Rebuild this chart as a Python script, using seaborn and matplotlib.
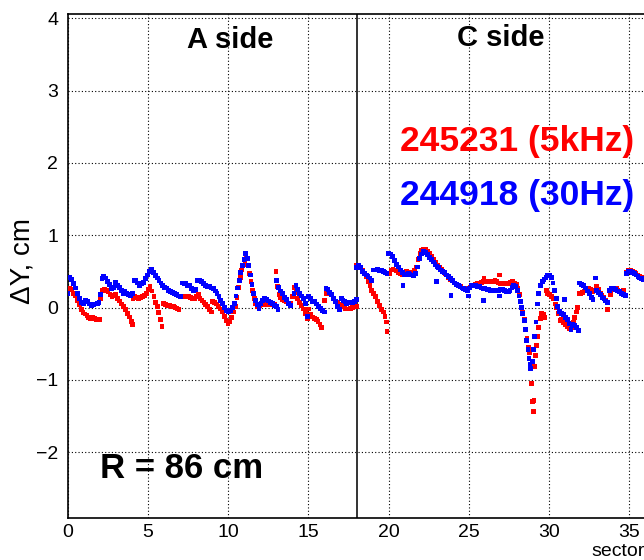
import numpy as np
import pandas as pd
import matplotlib
matplotlib.use("Agg")
import matplotlib.pyplot as plt
from matplotlib.ticker import MultipleLocator
import seaborn as sns

# Run 245231 (5 kHz): sector position and Y distortion [cm]
red_sector = [
    0.00, 0.10, 0.22, 0.34, 0.46, 0.58, 0.70, 0.82, 0.94, 1.06, 1.18, 1.30, 1.42, 1.54, 1.66, 1.78, 1.90, 2.00,
    2.04, 2.14, 2.26, 2.38, 2.50, 2.62, 2.74, 2.86, 2.98, 3.10, 3.22, 3.34, 3.46, 3.58, 3.70, 3.82, 3.94, 4.04,
    4.06, 4.18, 4.30, 4.42, 4.54, 4.66, 4.78, 4.90, 5.02, 5.12, 5.24, 5.36, 5.46, 5.56, 5.66, 5.76, 5.86,
    5.96, 6.08, 6.20, 6.32, 6.44, 6.56, 6.68, 6.80, 6.92,
    7.04, 7.16, 7.28, 7.40, 7.52, 7.64, 7.76, 7.88, 8.00, 8.12,
    8.24, 8.36, 8.48, 8.60, 8.72, 8.84, 8.94,
    9.02, 9.14, 9.26, 9.38, 9.50, 9.62, 9.74, 9.86, 9.98, 10.10, 10.22, 10.34, 10.44, 10.54, 10.64, 10.74,
    10.84, 10.94, 11.04, 11.12, 11.22, 11.32, 11.42, 11.52, 11.62, 11.72, 11.84, 11.96, 12.08, 12.20, 12.32,
    12.44, 12.56, 12.68, 12.80, 12.92, 12.98,
    13.06, 13.16, 13.28, 13.40, 13.52, 13.64, 13.76, 13.88,
    14.00, 14.10, 14.22, 14.34, 14.46, 14.58, 14.70, 14.82, 14.94,
    15.00, 15.12, 15.24, 15.36, 15.48, 15.60, 15.72, 15.82,
    16.02, 16.12, 16.22, 16.34, 16.46, 16.58, 16.70, 16.82, 16.94,
    17.04, 17.16, 17.28, 17.40, 17.52, 17.64, 17.76, 17.88, 17.98,
    18.02, 18.12, 18.24, 18.36, 18.48, 18.60, 18.72, 18.84, 18.96, 19.08, 19.20, 19.32, 19.44, 19.56, 19.68,
    19.78, 19.86, 19.90,
    20.04, 20.16, 20.28, 20.40, 20.52, 20.64, 20.76, 20.88, 21.00, 21.12, 21.24, 21.36, 21.48, 21.60, 21.72,
    21.84, 21.96, 22.08, 22.20, 22.32, 22.44, 22.56, 22.68, 22.80, 22.92, 23.04, 23.16, 23.28, 23.40, 23.52,
    23.64, 23.76, 23.88, 24.00, 24.12, 24.24, 24.36, 24.48, 24.60, 24.72, 24.84, 24.96, 25.08, 25.20, 25.32,
    25.44, 25.56, 25.68, 25.80, 25.92, 25.95, 26.04, 26.16, 26.28, 26.40, 26.52, 26.64, 26.76, 26.88, 26.90,
    27.00, 27.12, 27.24, 27.36, 27.48, 27.60, 27.72, 27.84, 27.96, 28.06, 28.16, 28.26,
    28.36, 28.46, 28.56, 28.64, 28.72, 28.80, 28.90, 28.96, 29.02, 29.08, 29.12, 29.18, 29.24, 29.30, 29.38,
    29.46, 29.56, 29.66, 29.76,
    29.84, 29.94, 30.04, 30.16, 30.28, 30.40, 30.50, 30.60, 30.70, 30.80, 30.92, 31.04, 31.16, 31.28, 31.40,
    31.52, 31.62, 31.72, 31.80,
    31.88, 32.00, 32.12, 32.24, 32.36, 32.48, 32.60, 32.72, 32.84, 32.96, 33.08, 33.20, 33.32, 33.44, 33.56, 33.66,
    33.84, 33.96, 34.08, 34.20, 34.32, 34.44, 34.56, 34.68,
    34.84, 34.96, 35.08, 35.20, 35.32, 35.44, 35.56, 35.68, 35.80, 35.92,
]
red_dy = [
    0.24, 0.27, 0.25, 0.20, 0.16, 0.10, 0.04, -0.03, -0.07, -0.09, -0.11, -0.14, -0.15, -0.14, -0.15, -0.16, -0.16, -0.17,
    0.13, 0.24, 0.25, 0.24, 0.22, 0.18, 0.15, 0.17, 0.18, 0.13, 0.09, 0.05, 0.01, -0.03, -0.08, -0.13, -0.19, -0.23,
    0.13, 0.15, 0.14, 0.13, 0.14, 0.15, 0.17, 0.20, 0.25, 0.29, 0.23, 0.15, 0.07, 0.01, -0.07, -0.16, -0.26,
    0.06, 0.04, 0.03, 0.03, 0.02, 0.01, 0.00, -0.01, -0.03,
    0.15, 0.16, 0.15, 0.15, 0.15, 0.14, 0.13, 0.13, 0.15, 0.18,
    0.13, 0.10, 0.07, 0.04, 0.01, -0.03, -0.06,
    0.08, 0.07, 0.05, 0.02, -0.02, -0.06, -0.12, -0.18, -0.22, -0.19, -0.14, -0.06, 0.02, 0.14, 0.28, 0.42,
    0.52, 0.59, 0.64, 0.68, 0.59, 0.47, 0.36, 0.24, 0.12, 0.05, 0.02, 0.03, 0.04, 0.04, 0.04,
    0.04, 0.04, 0.04, 0.04, 0.04, 0.50,
    0.29, 0.18, 0.14, 0.11, 0.09, 0.08, 0.06, 0.06,
    0.15, 0.28, 0.21, 0.13, 0.07, 0.03, -0.02, -0.08, -0.15,
    -0.02, -0.10, -0.13, -0.15, -0.17, -0.19, -0.23, -0.27,
    0.10, 0.20, 0.24, 0.21, 0.18, 0.13, 0.09, 0.07, 0.05,
    0.04, 0.01, -0.01, -0.02, -0.02, -0.01, 0.00, 0.01, 0.01,
    0.58, 0.59, 0.55, 0.51, 0.47, 0.43, 0.36, 0.30, 0.24, 0.20, 0.15, 0.08, 0.03, -0.03, -0.06,
    -0.12, -0.20, -0.33,
    0.47, 0.52, 0.53, 0.52, 0.51, 0.49, 0.47, 0.46, 0.48, 0.50, 0.48, 0.47, 0.49, 0.52, 0.56,
    0.66, 0.75, 0.79, 0.81, 0.81, 0.78, 0.75, 0.71, 0.67, 0.62, 0.59, 0.56, 0.53, 0.50, 0.47,
    0.45, 0.42, 0.39, 0.37, 0.34, 0.32, 0.31, 0.29, 0.27, 0.26, 0.26, 0.26, 0.28, 0.30, 0.31,
    0.32, 0.33, 0.34, 0.35, 0.36, 0.41, 0.36, 0.36, 0.36, 0.36, 0.36, 0.37, 0.36, 0.34, 0.45,
    0.33, 0.33, 0.34, 0.33, 0.33, 0.35, 0.36, 0.33, 0.32, 0.26, 0.18, 0.09,
    -0.06, -0.16, -0.30, -0.42, -0.55, -0.62, -1.05, -1.30, -1.44, -1.28, -0.82, -0.66, -0.52, -0.40, -0.28,
    -0.15, -0.08, -0.09, -0.14,
    0.24, 0.20, 0.18, 0.15, 0.12, 0.05, 0.00, -0.08, -0.18, -0.16, -0.21, -0.23, -0.26, -0.29, -0.27,
    -0.21, -0.14, -0.06, 0.00,
    0.20, 0.20, 0.21, 0.23, 0.25, 0.27, 0.25, 0.22, 0.24, 0.29, 0.25, 0.20, 0.17, 0.14, 0.10, -0.03,
    0.18, 0.25, 0.27, 0.26, 0.24, 0.23, 0.22, 0.24,
    0.48, 0.52, 0.52, 0.50, 0.49, 0.47, 0.45, 0.43, 0.42, 0.41,
]

# Run 244918 (30 Hz): sector position and Y distortion [cm]
blue_sector = [
    0.00, 0.10, 0.22, 0.35, 0.48, 0.60, 0.72, 0.85, 0.97, 1.08, 1.20, 1.32, 1.45, 1.58, 1.70, 1.82, 1.94,
    2.02, 2.12, 2.24, 2.36, 2.48, 2.60, 2.72, 2.84, 2.96, 3.08, 3.20, 3.32, 3.44, 3.56, 3.68, 3.80, 3.92, 4.02,
    4.12, 4.24, 4.36, 4.48, 4.60, 4.72, 4.84, 4.96, 5.08, 5.20, 5.32, 5.44, 5.56, 5.68, 5.80, 5.92, 6.04,
    6.16, 6.28, 6.40, 6.52, 6.64, 6.76, 6.88, 7.00,
    7.12, 7.24, 7.36, 7.48, 7.60, 7.72, 7.84, 7.96,
    8.10, 8.22, 8.34, 8.46, 8.58, 8.70, 8.82, 8.94, 9.06, 9.18, 9.30, 9.42, 9.54, 9.66, 9.78, 9.90, 10.02,
    10.14, 10.26, 10.38, 10.48, 10.58, 10.68, 10.78, 10.88, 10.98, 11.08, 11.18, 11.28, 11.38, 11.48, 11.58,
    11.68, 11.80, 11.92, 12.04, 12.16, 12.28, 12.40, 12.52, 12.64, 12.76, 12.88, 13.00, 13.10,
    13.02, 13.14, 13.26, 13.38, 13.50, 13.62, 13.74, 13.86,
    14.10, 14.22, 14.34, 14.46, 14.58, 14.70, 14.82, 14.94,
    15.02, 15.14, 15.26, 15.38, 15.50, 15.62, 15.74, 15.86, 15.98,
    16.10, 16.22, 16.34, 16.46, 16.58, 16.70, 16.82, 16.94,
    17.04, 17.16, 17.28, 17.40, 17.52, 17.64, 17.76, 17.88, 17.98,
    18.02, 18.12, 18.24, 18.36, 18.48, 18.60, 18.72, 18.84, 18.96,
    19.06, 19.18, 19.30, 19.42, 19.54, 19.66, 19.78, 19.90,
    20.02, 20.14, 20.26, 20.38, 20.50, 20.62, 20.74, 20.86, 20.90, 20.98, 21.10, 21.22, 21.34, 21.46, 21.58,
    21.70, 21.82, 21.94, 22.06, 22.18, 22.30, 22.42, 22.54, 22.66, 22.78, 22.90, 23.00, 23.02, 23.14, 23.26,
    23.38, 23.50, 23.62, 23.74, 23.86, 23.90, 23.98, 24.10, 24.22, 24.34, 24.46, 24.58, 24.70, 24.82, 24.94,
    24.97, 25.06, 25.18, 25.30, 25.42, 25.54, 25.66, 25.78, 25.90, 25.92, 26.02, 26.14, 26.26, 26.38, 26.50,
    26.62, 26.74, 26.86, 26.90, 26.98, 27.10, 27.22, 27.34, 27.46, 27.58, 27.70, 27.82, 27.94, 28.04, 28.14,
    28.22, 28.30, 28.38, 28.46, 28.54, 28.62, 28.70, 28.76, 28.82, 28.88, 28.96, 29.04, 29.12, 29.20, 29.28,
    29.36, 29.46, 29.58, 29.70, 29.82, 29.94, 30.06, 30.16, 30.26, 30.36, 30.46, 30.56, 30.66, 30.78, 30.90,
    31.00, 31.02, 31.14, 31.26, 31.38, 31.50, 31.62, 31.74, 31.86,
    31.92, 32.04, 32.16, 32.28, 32.40, 32.52, 32.64, 32.76, 32.90,
    32.96, 33.08, 33.20, 33.32, 33.44, 33.56, 33.68,
    33.80, 33.92, 34.04, 34.16, 34.28, 34.40, 34.52, 34.64, 34.76,
    34.86, 34.96, 35.08, 35.20, 35.32, 35.44, 35.56, 35.68, 35.80, 35.92,
]
blue_dy = [
    0.20, 0.42, 0.39, 0.33, 0.27, 0.20, 0.13, 0.07, 0.05, 0.10, 0.08, 0.05, 0.03, 0.04, 0.05, 0.06, 0.07,
    0.18, 0.40, 0.43, 0.41, 0.36, 0.32, 0.26, 0.28, 0.35, 0.31, 0.28, 0.24, 0.20, 0.23, 0.20, 0.18, 0.17, 0.19,
    0.37, 0.37, 0.34, 0.31, 0.33, 0.35, 0.40, 0.45, 0.50, 0.53, 0.48, 0.44, 0.41, 0.37, 0.34, 0.30, 0.28,
    0.27, 0.24, 0.22, 0.21, 0.20, 0.18, 0.16, 0.15,
    0.34, 0.33, 0.34, 0.31, 0.30, 0.26, 0.24, 0.25,
    0.37, 0.37, 0.36, 0.33, 0.31, 0.29, 0.29, 0.27, 0.26, 0.23, 0.20, 0.15, 0.10, 0.06, 0.00, -0.04, -0.06,
    -0.04, 0.00, 0.06, 0.16, 0.27, 0.38, 0.48, 0.58, 0.66, 0.75, 0.68, 0.58, 0.45, 0.32, 0.20,
    0.10, 0.04, -0.01, 0.06, 0.10, 0.12, 0.11, 0.09, 0.07, 0.06, 0.03, 0.01, -0.03,
    0.37, 0.28, 0.23, 0.19, 0.14, 0.11, 0.06, 0.03,
    0.20, 0.31, 0.25, 0.19, 0.16, 0.12, 0.06, -0.12,
    0.15, 0.12, 0.08, 0.08, 0.05, 0.02, -0.01, -0.04, -0.06,
    0.26, 0.25, 0.21, 0.18, 0.12, 0.08, 0.02, -0.03,
    0.13, 0.10, 0.08, 0.06, 0.07, 0.07, 0.07, 0.08, 0.11,
    0.55, 0.59, 0.55, 0.50, 0.47, 0.45, 0.43, 0.41, 0.38,
    0.52, 0.52, 0.53, 0.51, 0.51, 0.50, 0.49, 0.47,
    0.75, 0.74, 0.71, 0.65, 0.60, 0.56, 0.52, 0.49, 0.30, 0.46, 0.46, 0.47, 0.46, 0.45, 0.44,
    0.47, 0.56, 0.68, 0.74, 0.77, 0.76, 0.73, 0.69, 0.66, 0.63, 0.60, 0.36, 0.57, 0.55, 0.52,
    0.50, 0.48, 0.45, 0.43, 0.40, 0.17, 0.37, 0.34, 0.32, 0.31, 0.29, 0.27, 0.26, 0.25, 0.24,
    0.16, 0.27, 0.30, 0.31, 0.30, 0.29, 0.29, 0.27, 0.26, 0.10, 0.26, 0.25, 0.25, 0.24, 0.24,
    0.24, 0.24, 0.23, 0.16, 0.25, 0.25, 0.24, 0.22, 0.22, 0.24, 0.28, 0.31, 0.29, 0.24, 0.16,
    0.08, 0.00, -0.08, -0.18, -0.30, -0.45, -0.58, -0.70, -0.78, -0.84, -0.75, -0.58, -0.40, -0.20, 0.05,
    0.20, 0.31, 0.36, 0.39, 0.42, 0.44, 0.45, 0.42, 0.34, 0.24, 0.12, 0.02, -0.05, -0.08, -0.10,
    0.11, -0.14, -0.17, -0.22, -0.30, -0.23, -0.25, -0.28, -0.32,
    0.34, 0.32, 0.30, 0.27, 0.23, 0.19, 0.14, 0.11, 0.41,
    0.24, 0.21, 0.18, 0.14, 0.12, 0.09, 0.07,
    0.24, 0.26, 0.27, 0.25, 0.23, 0.22, 0.20, 0.18, 0.17,
    0.47, 0.50, 0.50, 0.49, 0.47, 0.45, 0.43, 0.41, 0.40, 0.39,
]

runs = ["245231 (5kHz)", "244918 (30Hz)"]
run_colors = ["#ff0000", "#0000ff"]
side_labels = ["A side", "C side"]
radius_label = "R = 86 cm"

df = pd.concat([
    pd.DataFrame({"sector": red_sector, "dy": red_dy, "run": runs[0]}),
    pd.DataFrame({"sector": blue_sector, "dy": blue_dy, "run": runs[1]}),
], ignore_index=True)

sns.set_style("white")
plt.rcParams["font.family"] = ["Liberation Sans", "DejaVu Sans"]
plt.rcParams["text.color"] = "black"
plt.rcParams["axes.labelcolor"] = "black"

W, H = 644, 560
fig = plt.figure(figsize=(W / 100, H / 100), dpi=100)
# frame runs a little past the right edge of the canvas
ax = fig.add_axes([68 / W, 42 / H, 577 / W, 504 / H])

sns.scatterplot(data=df, x="sector", y="dy", hue="run", hue_order=runs,
                palette=dict(zip(runs, run_colors)), marker="s", s=12,
                linewidth=0, legend=False, ax=ax, zorder=3)

ax.set_xlim(0, 36)
ax.set_ylim(-2.91, 4.06)
ax.xaxis.set_major_locator(MultipleLocator(5))
ax.xaxis.set_minor_locator(MultipleLocator(1))
ax.yaxis.set_major_locator(MultipleLocator(1))
ax.yaxis.set_minor_locator(MultipleLocator(0.2))

ax.grid(True, which="major", color="black", linestyle=(0, (1, 2)), linewidth=0.8)
ax.tick_params(axis="both", which="both", direction="in", colors="black",
               labelsize=14, top=False, right=False)
ax.tick_params(axis="y", which="major", length=13, width=1.0, pad=7)
ax.tick_params(axis="y", which="minor", length=6.5, width=1.0)
ax.tick_params(axis="x", which="major", length=9, width=1.0, pad=4)
ax.tick_params(axis="x", which="minor", length=5, width=1.0)
for sp in ax.spines.values():
    sp.set_color("black")
    sp.set_linewidth(1.2)

ax.axvline(18, color="#333333", linewidth=1.4, zorder=2)

ax.set_xlabel("sector", fontsize=14, loc="right", labelpad=2, color="black")
ax.set_ylabel("\u0394Y, cm", fontsize=20, color="black")
ax.yaxis.set_label_coords(-0.057, 0.51)

ax.text(10.1, 3.7, side_labels[0], fontsize=21, fontweight="bold", color="black", ha="center", va="center")
ax.text(27.0, 3.73, side_labels[1], fontsize=21, fontweight="bold", color="black", ha="center", va="center")
ax.text(20.7, 2.3, runs[0], fontsize=25.5, fontweight="bold", color=run_colors[0], ha="left", va="center")
ax.text(20.7, 1.55, runs[1], fontsize=25.5, fontweight="bold", color=run_colors[1], ha="left", va="center")
ax.text(2.0, -2.22, radius_label, fontsize=25, fontweight="bold", color="black", ha="left", va="center")

fig.savefig("out.png", dpi=100)
